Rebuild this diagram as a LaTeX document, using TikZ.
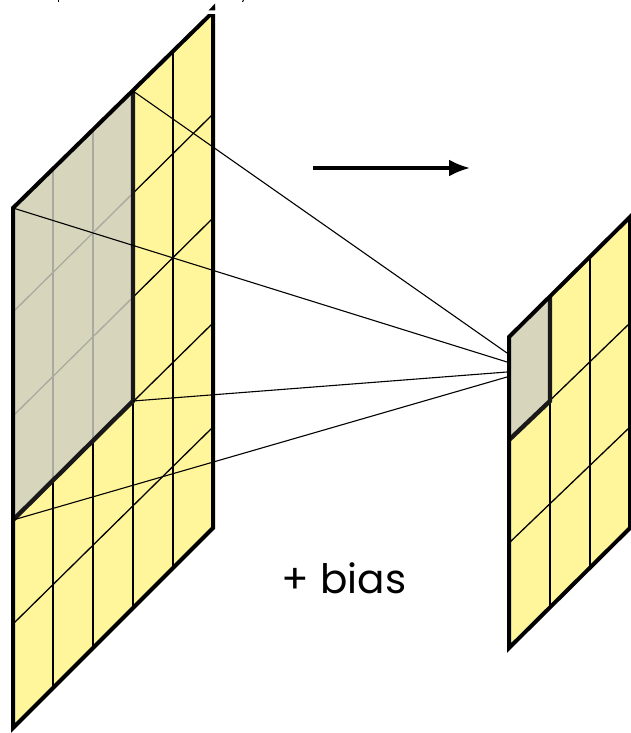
\documentclass[tikz,border=0pt]{standalone}
\usepackage{fontspec}
\setmainfont{Poppins}
\usetikzlibrary{arrows.meta}
\definecolor{hojaamarilla}{HTML}{FFF59B}
\definecolor{velogris}{HTML}{CFCFC3}
\begin{document}
\begin{tikzpicture}[
  x=1pt, y=-1pt,
  hoja/.style={draw=black, line width=4pt, miter limit=10},
  rejilla/.style={draw=black, line width=1.3pt},
  filtro/.style={fill=velogris, fill opacity=0.82, draw=none},
  borde/.style={draw=black!90, line width=4.4pt, line join=miter},
  rayo/.style={draw=black, line width=1.1pt},
  flecha/.style={-{Latex[length=21pt, width=17pt]}, line width=3.2pt}
]
  \useasboundingbox (0,0) rectangle (631,733);

  % panel izquierdo
  \coordinate (ltl) at (13,208);
  \coordinate (ltr) at (213,12);
  \coordinate (lbr) at (213,528);
  \coordinate (lbl) at (13,728);
  \fill[hojaamarilla] (ltl)--(ltr)--(lbr)--(lbl)--cycle;
  \foreach \ya/\yb in {312/114, 416/218, 520/323, 624/427}
    \draw[rejilla] (13,\ya)--(213,\yb);
  \foreach \xc/\ya/\yb in {53/169/688, 93/130/648, 133/91/608, 173/51/568}
    \draw[rejilla] (\xc,\ya)--(\xc,\yb);

  \coordinate (kur) at (133,91);
  \coordinate (kbr) at (133,401);
  \coordinate (kbl) at (13,520);
  \fill[filtro] (ltl)--(kur)--(kbr)--(kbl)--cycle;
  \draw[borde] (kur)--(kbr)--(kbl);
  \draw[hoja] (ltl)--(ltr)--(lbr)--(lbl)--cycle;
  \fill[white] (203,10.5) rectangle (216,14);
  \fill[black] (208.5,10.5)--(215,3.5)--(215,10.5)--cycle;
  \draw[line width=1pt] (58.5,0)--(58.5,2);
  \draw[line width=1pt] (243.5,0)--(242.5,2);

  % panel derecho
  \coordinate (rtl) at (509,337);
  \coordinate (rtr) at (630,217);
  \coordinate (rbr) at (630,528);
  \coordinate (rbl) at (509,648);
  \fill[hojaamarilla] (rtl)--(rtr)--(rbr)--(rbl)--cycle;
  \foreach \ya/\yb in {440/323, 543/427}
    \draw[rejilla] (509,\ya)--(630,\yb);
  \foreach \xc/\ya/\yb in {550/296/607, 590/257/568}
    \draw[rejilla] (\xc,\ya)--(\xc,\yb);

  \coordinate (sur) at (550,296);
  \coordinate (sbr) at (550,401);
  \coordinate (sbl) at (509,440);
  \fill[filtro] (rtl)--(sur)--(sbr)--(sbl)--cycle;
  \draw[borde] (sur)--(sbr)--(sbl);
  \draw[hoja] (rtl)--(rtr)--(rbr)--(rbl)--cycle;

  % rayos
  \coordinate (p1) at (507,353);
  \coordinate (p2) at (507,362);
  \coordinate (p3) at (507,372);
  \coordinate (p4) at (507,377);
  \draw[rayo] (kur)--(p1);
  \draw[rayo] (ltl)--(p2);
  \draw[rayo] (kbr)--(p3);
  \draw[rayo] (kbl)--(p4);

  \coordinate (fi) at (313,168);
  \coordinate (ff) at (470,168);
  \draw[flecha] (fi)--(ff);

  \node[inner sep=0pt, font=\fontsize{40.5}{44}\selectfont] (bias) at (344,578) {+ bias};
\end{tikzpicture}
\end{document}
